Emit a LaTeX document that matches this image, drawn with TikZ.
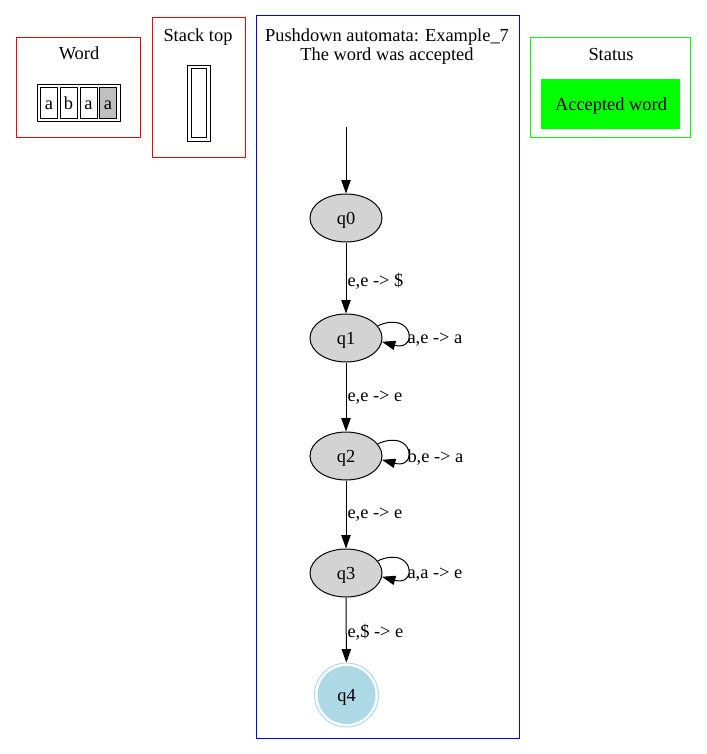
\documentclass[tikz,border=0pt]{standalone}
\usepackage{fontspec}
\setmainfont{Liberation Serif}
\usetikzlibrary{arrows.meta,shapes.geometric}
\definecolor{lb}{HTML}{ADD8E6}
\definecolor{lg}{HTML}{D3D3D3}
\definecolor{cellgray}{HTML}{C0C0C0}
\definecolor{gvred}{HTML}{FF0000}
\definecolor{gvblue}{HTML}{0000FF}
\definecolor{gvgreen}{HTML}{00FF00}
\begin{document}
\begin{tikzpicture}[x=0.75pt,y=-0.75pt,
  font=\fontsize{13.8pt}{16.5pt}\selectfont,
  every path/.style={line width=0.75pt},
  state/.style={ellipse, draw, fill=lg, minimum width=54pt, minimum height=36pt, inner sep=0pt, text height=11pt, text depth=1.4pt},
  edge/.style={-{Triangle[length=10pt,width=7pt]}},
  lbl/.style={anchor=west, inner sep=0pt},
  txt/.style={inner sep=0pt},
  cell/.style={draw, minimum width=12.75pt, minimum height=23.25pt, inner sep=0pt, text height=9pt, text depth=0pt}]
\useasboundingbox (0,0) rectangle (707,754);

% Word cluster
\draw[gvred] (16,37) rectangle (140,137);
\node[txt] (wordt) at (79,53.5) {Word};
\draw (37,84) rectangle (120,121);
\node[cell] (w1) at (49,103) {a};
\node[cell] (w2) at (68.5,103) {b};
\node[cell] (w3) at (88.5,103) {a};
\node[cell, fill=cellgray] (w4) at (108,103) {a};

% Stack cluster
\draw[gvred] (152,17) rectangle (245,157);
\node[txt] (stackt) at (198,37) {Stack top};
\draw (187,65) rectangle (210,141);
\draw (191,68.5) rectangle (206,137.5);

% Automaton cluster
\draw[gvblue] (256,15) rectangle (519,738);
\node[txt, align=center, font=\fontsize{13.8pt}{14.25pt}\selectfont] (title) at (387,46.5)
  {Pushdown automata: Example\_7\\The word was accepted};

% Status cluster
\draw[gvgreen] (530.5,37) rectangle (690.5,137);
\node[txt] (statust) at (611,54.5) {Status};
\node[fill=gvgreen, minimum width=104.25pt, minimum height=37.5pt, inner sep=0pt] (accbox) at (610.5,103.5) {};
\node[txt] (acc) at (611,106.5) {Accepted word};

% States
\coordinate (start) at (346,127);
\node[state] (q0) at (346,218) {q0};
\node[state] (q1) at (346,338) {q1};
\node[state] (q2) at (346,456) {q2};
\node[state] (q3) at (346,573) {q3};
\node[circle, draw=lb, minimum size=48pt, inner sep=0pt] (q4) at (346.5,695) {};
\node[circle, draw=lb, fill=lb, minimum size=42.75pt, inner sep=0pt, text height=11pt, text depth=1.4pt] (q4in) at (346.5,695) {q4};

% Edges
\draw[edge] (start) -- (q0);
\draw[edge] (q0) -- (q1);
\draw[edge] (q1) -- (q2);
\draw[edge] (q2) -- (q3);
\draw[edge] (q3) -- (q4);
\node[lbl] (l01) at (347,281.5) {e,e -> \$};
\node[lbl] (l12) at (347,398) {e,e -> e};
\node[lbl] (l23) at (347,515) {e,e -> e};
\node[lbl] (l34) at (347,632.5) {e,\$ -> e};

% Self loops
\draw[edge] (q1.21) .. controls +(36,-16) and +(36,10) .. (q1.-6);
\draw[edge] (q2.21) .. controls +(36,-16) and +(36,10) .. (q2.-6);
\draw[edge] (q3.21) .. controls +(36,-16) and +(36,10) .. (q3.-6);
\node[lbl] (l11) at (407,340) {a,e -> a};
\node[lbl] (l22) at (407,458) {b,e -> a};
\node[lbl] (l33) at (407,575) {a,a -> e};
\end{tikzpicture}
\end{document}
